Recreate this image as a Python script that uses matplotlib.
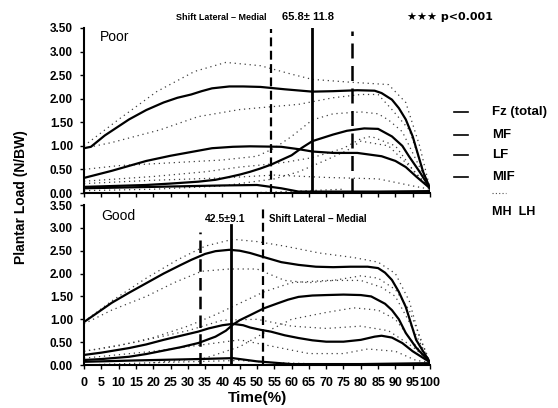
import numpy as np
import matplotlib.pyplot as plt

plt.rcParams['font.family'] = ['Liberation Sans', 'DejaVu Sans']

# ---- Poor (top panel) ----
poor_fz_x = [0, 2, 6, 13, 18, 23, 27, 31, 34, 37, 42, 46, 51, 58, 66, 72, 79, 84, 86, 89, 91, 93, 95, 96, 98, 100]
poor_fz_y = [0.95, 0.98, 1.22, 1.56, 1.76, 1.92, 2.02, 2.09, 2.16, 2.22, 2.26, 2.26, 2.25, 2.2, 2.15, 2.16,
             2.18, 2.17, 2.12, 1.98, 1.8, 1.56, 1.2, 0.95, 0.45, 0.1]
poor_a_x = [0, 8, 18, 25, 31, 37, 43, 48, 57, 62, 66, 72, 79, 86, 90, 93, 96, 100]
poor_a_y = [0.32, 0.47, 0.68, 0.79, 0.87, 0.95, 0.98, 0.99, 0.98, 0.93, 0.88, 0.85, 0.85, 0.78, 0.68, 0.55, 0.35, 0.1]
poor_b_x = [0, 18, 25, 33, 38, 42, 45, 48, 51, 54, 60, 63, 66, 72, 76, 81, 85, 89, 92, 94, 97, 100]
poor_b_y = [0.13, 0.17, 0.2, 0.24, 0.28, 0.34, 0.39, 0.45, 0.52, 0.6, 0.8, 0.96, 1.1, 1.24, 1.32, 1.37, 1.36,
            1.2, 1.0, 0.77, 0.45, 0.1]
poor_c_x = [0, 20, 40, 50, 57, 62, 75, 85, 100]
poor_c_y = [0.1, 0.13, 0.16, 0.17, 0.1, 0.03, 0.03, 0.03, 0.04]

poor_dots = [
    ([0, 10, 21, 32, 41, 51, 60, 66, 77, 88, 93, 97, 100],
     [1.0, 1.56, 2.15, 2.58, 2.77, 2.7, 2.52, 2.41, 2.35, 2.3, 1.92, 1.0, 0.1]),
    ([0, 8, 22, 33, 45, 51, 62, 72, 80, 85, 89, 94, 97, 100],
     [0.95, 1.07, 1.34, 1.62, 1.77, 1.81, 1.88, 2.02, 2.09, 2.09, 1.77, 1.34, 0.7, 0.1]),
    ([0, 10, 20, 30, 40, 50, 55, 60, 66, 72, 80, 85, 88, 92, 96, 100],
     [0.5, 0.58, 0.62, 0.66, 0.7, 0.78, 0.95, 1.2, 1.55, 1.68, 1.72, 1.68, 1.55, 1.3, 0.7, 0.1]),
    ([0, 20, 35, 45, 52, 58, 66, 75, 80, 83, 90, 96, 100],
     [0.25, 0.35, 0.45, 0.55, 0.6, 0.65, 0.75, 0.95, 1.15, 1.2, 1.0, 0.4, 0.1]),
    ([0, 20, 40, 55, 62, 70, 76, 80, 88, 95, 100],
     [0.05, 0.08, 0.15, 0.3, 0.45, 0.7, 0.9, 1.1, 1.0, 0.5, 0.1]),
    ([0, 20, 40, 55, 70, 85, 95, 100],
     [0.2, 0.27, 0.32, 0.38, 0.33, 0.3, 0.15, 0.08]),
    ([25, 35, 45, 55, 65, 75],
     [-0.03, -0.02, 0.0, 0.02, 0.05, 0.08]),
]

# ---- Good (bottom panel) ----
good_fz_x = [0, 4, 8, 13, 18, 23, 28, 31, 35, 38, 42, 45, 48, 52, 57, 62, 67, 72, 77, 82, 85, 87, 89, 91,
             93, 96, 98, 100]
good_fz_y = [0.94, 1.15, 1.36, 1.58, 1.79, 2.0, 2.19, 2.3, 2.43, 2.49, 2.52, 2.5, 2.45, 2.36, 2.25, 2.19,
             2.15, 2.14, 2.15, 2.15, 2.12, 2.02, 1.86, 1.6, 1.27, 0.55, 0.3, 0.06]
good_a_x = [0, 5, 13, 18, 23, 28, 33, 36, 40, 43, 46, 48, 51, 54, 58, 62, 66, 70, 75, 80, 84, 86, 89, 92,
            95, 100]
good_a_y = [0.22, 0.27, 0.37, 0.45, 0.55, 0.64, 0.73, 0.8, 0.87, 0.9, 0.87, 0.82, 0.77, 0.73, 0.65, 0.59,
            0.54, 0.51, 0.51, 0.55, 0.62, 0.64, 0.6, 0.48, 0.3, 0.06]
good_b_x = [0, 5, 13, 18, 24, 28, 33, 38, 41, 43, 45, 48, 52, 56, 59, 62, 66, 70, 75, 80, 83, 85, 87, 89,
            91, 93, 96, 100]
good_b_y = [0.11, 0.13, 0.18, 0.24, 0.33, 0.39, 0.48, 0.62, 0.75, 0.88, 0.98, 1.09, 1.24, 1.35, 1.43, 1.49,
            1.52, 1.53, 1.54, 1.53, 1.5, 1.42, 1.34, 1.2, 1.0, 0.7, 0.38, 0.06]
good_c_x = [0, 15, 33, 43, 50, 60, 80, 100]
good_c_y = [0.07, 0.1, 0.13, 0.15, 0.08, 0.02, 0.02, 0.04]

good_dots = [
    ([0, 8, 18, 27, 35, 43, 50, 58, 68, 78, 85, 90, 94, 97, 100],
     [0.95, 1.4, 1.9, 2.3, 2.6, 2.75, 2.7, 2.6, 2.45, 2.35, 2.25, 2.0, 1.4, 0.6, 0.06]),
    ([0, 8, 18, 26, 34, 42, 50, 58, 65, 72, 80, 85, 90, 94, 100],
     [0.9, 1.2, 1.5, 1.8, 2.05, 2.1, 2.1, 1.85, 1.8, 1.85, 1.95, 1.9, 1.65, 1.2, 0.06]),
    ([0, 10, 20, 30, 38, 45, 52, 60, 70, 80, 86, 90, 95, 100],
     [0.3, 0.42, 0.6, 0.85, 1.1, 1.35, 1.6, 1.8, 1.85, 1.85, 1.7, 1.5, 0.8, 0.06]),
    ([0, 20, 35, 45, 52, 60, 70, 78, 85, 90, 95, 100],
     [0.0, 0.05, 0.15, 0.4, 0.7, 1.0, 1.15, 1.25, 1.2, 1.0, 0.5, 0.06]),
    ([0, 20, 35, 45, 55, 65, 75, 82, 90, 96, 100],
     [0.15, 0.3, 0.45, 0.55, 0.4, 0.25, 0.25, 0.35, 0.3, 0.1, 0.06]),
    ([0, 15, 30, 40, 50, 60, 70, 80, 88, 95, 100],
     [0.3, 0.5, 0.75, 0.98, 1.0, 0.85, 0.8, 0.85, 0.75, 0.4, 0.06]),
    ([20, 35, 45, 55, 70, 85, 95],
     [0.05, 0.08, 0.1, 0.05, 0.02, 0.02, 0.02]),
]

yticks = [0.0, 0.5, 1.0, 1.5, 2.0, 2.5, 3.0, 3.5]
xticks = list(range(0, 101, 5))

poor_mean, poor_sd = 65.8, 11.8
good_mean, good_sd = 42.5, 9.1

fig = plt.figure(figsize=(5.58, 4.08), dpi=100)
W, H = 558.0, 408.0
ax1 = fig.add_axes([84 / W, 1 - 193 / H, 346 / W, 165 / H])
ax2 = fig.add_axes([84 / W, 1 - 365 / H, 346 / W, 160 / H])


def style(ax):
    ax.set_xlim(0, 100)
    ax.set_ylim(0, 3.5)
    ax.spines['top'].set_visible(False)
    ax.spines['right'].set_visible(False)
    ax.spines['left'].set_linewidth(1.5)
    ax.spines['bottom'].set_linewidth(1.5)
    ax.set_yticks(yticks)
    ax.set_yticklabels(['%.2f' % v for v in yticks], fontsize=8.5, fontweight='bold')
    ax.tick_params(axis='y', length=3, width=1, pad=5)
    ax.set_xticks(xticks)
    ax.tick_params(axis='x', length=3, width=1, pad=6)


def curves(ax, solids, dots):
    for x, y in dots:
        ax.plot(x, y, color='0.25', lw=0.9, ls=(0, (1, 3)))
    for x, y in solids:
        ax.plot(x, y, color='black', lw=1.6)


style(ax1)
ax1.set_xticklabels([])
curves(ax1, [(poor_fz_x, poor_fz_y), (poor_a_x, poor_a_y), (poor_b_x, poor_b_y),
             (poor_c_x, poor_c_y)], poor_dots)
ax1.axvline(poor_mean, color='black', lw=2)
ax1.plot([poor_mean - poor_sd] * 2, [0, 3.47], color='black', lw=1.6, ls=(0, (4, 2)))
ax1.plot([poor_mean + poor_sd] * 2, [0, 3.43], color='black', lw=1.8, ls=(0, (6, 3)))
ax1.text(4.5, 3.3, 'Poor', fontsize=10, va='center')
ax1.text(26.6, 3.62, 'Shift Lateral \u2013 Medial', fontsize=6.5, fontweight='bold', va='bottom')
ax1.text(57.2, 3.62, u'%.1f\u00b1 %.1f' % (poor_mean, poor_sd), fontsize=8, fontweight='bold', va='bottom')
ax1.text(93.4, 3.62, u'\u2605\u2605\u2605 p<0.001', fontsize=8, fontweight='bold', va='bottom',
         family=['DejaVu Sans'])

style(ax2)
ax2.set_xticklabels([str(v) for v in xticks], fontsize=9, fontweight='bold')
curves(ax2, [(good_fz_x, good_fz_y), (good_a_x, good_a_y), (good_b_x, good_b_y),
             (good_c_x, good_c_y)], good_dots)
ax2.plot([good_mean] * 2, [0, 3.06], color='black', lw=2)
ax2.plot([good_mean - good_sd] * 2, [0, 2.91], color='black', lw=1.8, ls=(0, (5, 2.5)))
ax2.plot([good_mean + good_sd] * 2, [0, 3.5], color='black', lw=1.6, ls=(0, (4, 2)))
ax2.text(5, 3.25, 'Good', fontsize=10, va='center')
ax2.text(35, 3.2, u'%.1f\u00b1%.1f' % (good_mean, good_sd), fontsize=7.5, fontweight='bold', va='center')
ax2.text(53.5, 3.2, 'Shift Lateral \u2013 Medial', fontsize=7, fontweight='bold', va='center')
ax2.set_xlabel('Time(%)', fontsize=11, fontweight='bold', labelpad=1)

fig.text(21 / W, 1 - 197 / H, 'Plantar Load (N/BW)', rotation=90, fontsize=10,
         fontweight='bold', ha='center', va='center')

# legend drawn by hand
leg_names = ['Fz (total)', 'MF', 'LF', 'MIF']
leg_y = [112, 135, 155, 177]
for name, yy in zip(leg_names, leg_y):
    fig.add_artist(plt.Line2D([454 / W, 468 / W], [1 - yy / H] * 2, color='black', lw=1.2))
    fig.text(492 / W, 1 - yy / H, name, fontsize=9.5, fontweight='bold', va='center')
fig.add_artist(plt.Line2D([492 / W, 506 / W], [1 - 193 / H] * 2, color='0.3', lw=0.8, ls=(0, (1, 2))))
fig.text(492 / W, 1 - 212 / H, 'MH  LH', fontsize=9, fontweight='bold', va='center')

fig.savefig('out.png', dpi=100)
